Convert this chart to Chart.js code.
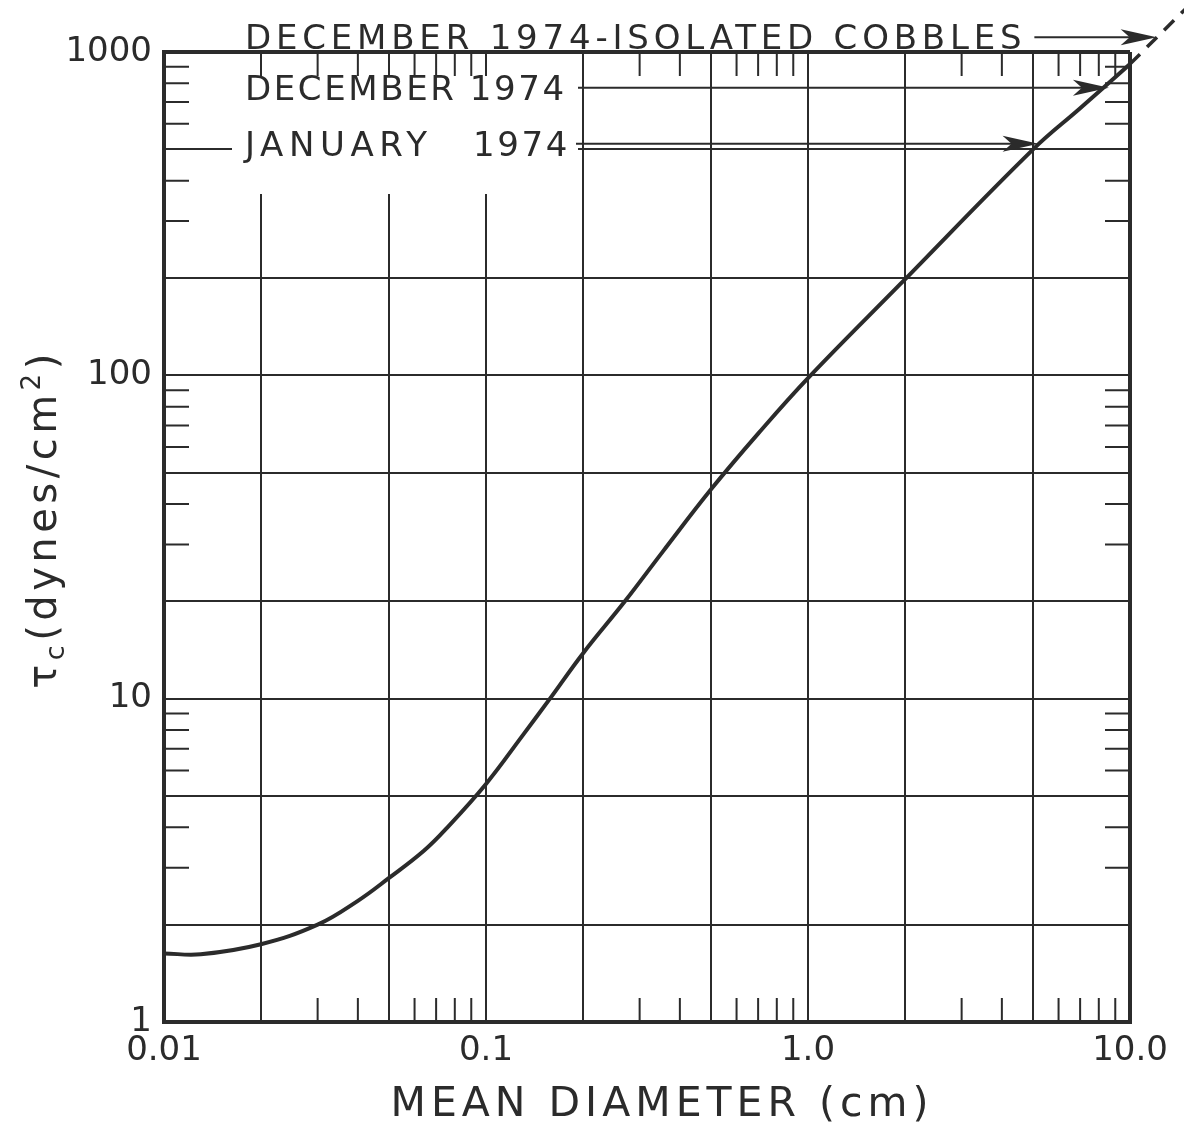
<!DOCTYPE html>
<html>
<head>
<meta charset="utf-8">
<script src="https://cdn.jsdelivr.net/npm/chart.js@4/dist/chart.umd.min.js"></script>
<style>
  html, body { margin: 0; padding: 0; background: #fff; }
  #wrap { width: 1184px; height: 1126px; position: relative; }
</style>
</head>
<body>
<div id="wrap"><canvas id="chartShear"></canvas></div>
<script>
// critical shear stress vs mean diameter
var DIAMETER = [0.01, 0.013, 0.02, 0.03, 0.04, 0.05, 0.064, 0.075, 0.1, 0.13, 0.158, 0.2, 0.27, 0.355, 0.5, 0.7, 1.0, 1.93, 5.0, 7.0, 10];
var TAU      = [1.63, 1.62, 1.74, 2.0, 2.37, 2.79, 3.38, 3.95, 5.45, 7.7, 10, 13.8, 20, 28.6, 44.4, 66, 98, 191, 500, 670, 918];
// dashed extension past the frame
var EXT_DIAMETER = [10, 15];
var EXT_TAU      = [918, 1370];

// grid and tick values
var X_GRID = [0.01, 0.02, 0.05, 0.1, 0.2, 0.5, 1, 2, 5, 10];
var Y_GRID = [1, 2, 5, 10, 20, 50, 100, 200, 500, 1000];
var X_MINOR = [0.03, 0.04, 0.06, 0.07, 0.08, 0.09, 0.3, 0.4, 0.6, 0.7, 0.8, 0.9, 3, 4, 6, 7, 8, 9];
var Y_MINOR = [3, 4, 6, 7, 8, 9, 30, 40, 60, 70, 80, 90, 300, 400, 600, 700, 800, 900];
var X_LABEL_VALUES = [0.01, 0.1, 1, 10];
var X_LABEL_TEXT   = ['0.01', '0.1', '1.0', '10.0'];
var Y_LABEL_VALUES = [1, 10, 100, 1000];
var Y_LABEL_TEXT   = ['1', '10', '100', '1000'];

// callouts: text, arrow height (tau) and arrow tip (diameter)
var CALLOUT_TEXT  = ['DECEMBER 1974-ISOLATED COBBLES', 'DECEMBER 1974', 'JANUARY'];
var CALLOUT_TAU   = [1110, 775, 520];
var CALLOUT_TIP_D = [12.1, 8.6, 5.2];
var CALLOUT_SPACING = [4.8, 2.6, 5.6];

var INK = '#2b2b2b';
var FONT = '"DejaVu Sans", sans-serif';

function findIndex(list, v) {
    for (var i = 0; i < list.length; i++) {
        if (Math.abs(list[i] - v) / list[i] < 1e-6) return i;
    }
    return -1;
}

function toPoints(xs, ys) {
    return xs.map(function (x, i) { return { x: x, y: ys[i] }; });
}

function arrowHead(ctx, x, y, len, half) {
    ctx.beginPath();
    ctx.moveTo(x, y);
    ctx.lineTo(x - len, y - half);
    ctx.lineTo(x - len * 0.75, y);
    ctx.lineTo(x - len, y + half);
    ctx.closePath();
    ctx.fill();
}

function drawSpaced(ctx, text, x, y, spacing) {
    ctx.letterSpacing = spacing + 'px';
    ctx.fillText(text, x, y);
    var w = ctx.measureText(text).width;
    ctx.letterSpacing = '0px';
    return w;
}

var paperPlugin = {
    id: 'paper',
    beforeDatasetsDraw: function (chart) {
        var ctx = chart.ctx;
        var xs = chart.scales.x, ys = chart.scales.y;
        var a = chart.chartArea;
        ctx.save();
        // white block behind the callout text
        ctx.fillStyle = '#fff';
        ctx.fillRect(a.left + 68, a.top + 24, 346, 118);
        // short inner marks on all four sides
        ctx.strokeStyle = INK;
        ctx.lineWidth = 2;
        ctx.beginPath();
        X_MINOR.forEach(function (v) {
            var px = xs.getPixelForValue(v);
            ctx.moveTo(px, a.top); ctx.lineTo(px, a.top + 24);
            ctx.moveTo(px, a.bottom); ctx.lineTo(px, a.bottom - 24);
        });
        Y_MINOR.forEach(function (v) {
            var py = ys.getPixelForValue(v);
            ctx.moveTo(a.left, py); ctx.lineTo(a.left + 25, py);
            ctx.moveTo(a.right, py); ctx.lineTo(a.right - 25, py);
        });
        ctx.stroke();
        ctx.restore();
    },
    afterDatasetsDraw: function (chart) {
        var ctx = chart.ctx;
        var xs = chart.scales.x, ys = chart.scales.y;
        var a = chart.chartArea;
        ctx.save();
        ctx.fillStyle = INK;
        ctx.strokeStyle = INK;
        ctx.textBaseline = 'alphabetic';
        ctx.textAlign = 'left';
        ctx.font = '34px ' + FONT;
        var textX = a.left + 81;
        for (var i = 0; i < CALLOUT_TEXT.length; i++) {
            var py = ys.getPixelForValue(CALLOUT_TAU[i]);
            var w = drawSpaced(ctx, CALLOUT_TEXT[i], textX, py + 12, CALLOUT_SPACING[i]);
            var lineStart = textX + w + 8;
            if (i === 2) {
                // "1974" set under the 1974 of the line above
                ctx.textAlign = 'right';
                drawSpaced(ctx, '1974', a.left + 406, py + 12, 2.6);
                ctx.textAlign = 'left';
                lineStart = a.left + 412;
            }
            if (i === 1) lineStart = a.left + 414;
            var tipX = xs.getPixelForValue(CALLOUT_TIP_D[i]);
            ctx.lineWidth = 2;
            ctx.beginPath();
            ctx.moveTo(lineStart, py);
            ctx.lineTo(tipX - 20, py);
            ctx.stroke();
            arrowHead(ctx, tipX, py, 36, 8);
        }

        // x axis title
        ctx.font = '41px ' + FONT;
        ctx.textAlign = 'center';
        ctx.letterSpacing = '5px';
        ctx.fillText('MEAN DIAMETER (cm)', (a.left + a.right) / 2 + 15, 1116);
        ctx.letterSpacing = '0px';

        // y axis title, rotated, with sub and superscript
        var parts = [
            { t: '\u03C4', size: 40, dy: 0 },
            { t: 'c', size: 27, dy: 8 },
            { t: '(dynes/cm', size: 40, dy: 0 },
            { t: '2', size: 26, dy: -16 },
            { t: ')', size: 40, dy: 0 }
        ];
        var spacing = 4.5;
        var total = 0;
        parts.forEach(function (p) {
            ctx.font = p.size + 'px ' + FONT;
            p.w = ctx.measureText(p.t).width + spacing * p.t.length;
            total += p.w;
        });
        ctx.translate(56, (a.top + a.bottom) / 2 - 18);
        ctx.rotate(-Math.PI / 2);
        ctx.textAlign = 'left';
        var cx = -total / 2;
        parts.forEach(function (p) {
            ctx.font = p.size + 'px ' + FONT;
            ctx.letterSpacing = spacing + 'px';
            ctx.fillText(p.t, cx, p.dy);
            cx += p.w;
        });
        ctx.letterSpacing = '0px';
        ctx.restore();
    }
};

function gridColor(list) {
    return function (c) {
        if (!c.tick) return 'rgba(0,0,0,0)';
        return findIndex(list, c.tick.value) >= 0 ? INK : 'rgba(0,0,0,0)';
    };
}

function gridWidth(min, max) {
    return function (c) {
        if (!c.tick) return 2;
        var v = c.tick.value;
        return (Math.abs(v - min) / min < 1e-6 || Math.abs(v - max) / max < 1e-6) ? 4 : 2;
    };
}

function initChart() {
    var canvas = document.getElementById('chartShear');
    new Chart(canvas, {
        type: 'scatter',
        data: {
            datasets: [
                {
                    label: 'critical shear',
                    data: toPoints(DIAMETER, TAU),
                    showLine: true,
                    borderColor: INK,
                    borderWidth: 4,
                    pointRadius: 0,
                    tension: 0.4
                },
                {
                    label: 'extension',
                    data: toPoints(EXT_DIAMETER, EXT_TAU),
                    showLine: true,
                    borderColor: INK,
                    borderWidth: 3.5,
                    borderDash: [14, 10],
                    pointRadius: 0,
                    clip: false
                }
            ]
        },
        options: {
            responsive: true,
            maintainAspectRatio: false,
            animation: false,
            events: [],
            layout: { padding: { left: 0, right: 54, top: 52, bottom: 0 } },
            plugins: {
                legend: { display: false },
                tooltip: { enabled: false }
            },
            scales: {
                x: {
                    type: 'logarithmic',
                    min: 0.01,
                    max: 10,
                    afterBuildTicks: function (s) {
                        s.ticks = X_GRID.map(function (v) { return { value: v }; });
                    },
                    afterFit: function (s) { s.height = 104; },
                    ticks: {
                        autoSkip: false,
                        maxRotation: 0,
                        padding: 9,
                        color: INK,
                        font: { family: FONT, size: 34 },
                        callback: function (v) {
                            var i = findIndex(X_LABEL_VALUES, v);
                            return i >= 0 ? X_LABEL_TEXT[i] : '';
                        }
                    },
                    grid: {
                        drawTicks: false,
                        color: gridColor(X_GRID),
                        lineWidth: gridWidth(0.01, 10)
                    },
                    border: { display: true, color: INK, width: 4 }
                },
                y: {
                    type: 'logarithmic',
                    min: 1,
                    max: 1000,
                    afterBuildTicks: function (s) {
                        s.ticks = Y_GRID.map(function (v) { return { value: v }; });
                    },
                    afterFit: function (s) { s.width = 164; },
                    ticks: {
                        autoSkip: false,
                        padding: 12,
                        color: INK,
                        font: { family: FONT, size: 34 },
                        callback: function (v) {
                            var i = findIndex(Y_LABEL_VALUES, v);
                            return i >= 0 ? Y_LABEL_TEXT[i] : '';
                        }
                    },
                    grid: {
                        drawTicks: false,
                        color: gridColor(Y_GRID),
                        lineWidth: gridWidth(1, 1000)
                    },
                    border: { display: true, color: INK, width: 4 }
                }
            }
        },
        plugins: [paperPlugin]
    });
}

initChart();
</script>
</body>
</html>
